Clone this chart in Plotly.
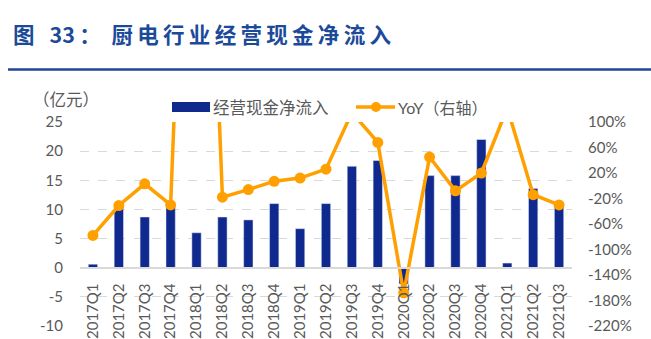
import plotly.graph_objects as go

categories = ["2017Q1", "2017Q2", "2017Q3", "2017Q4",
              "2018Q1", "2018Q2", "2018Q3", "2018Q4",
              "2019Q1", "2019Q2", "2019Q3", "2019Q4",
              "2020Q1", "2020Q2", "2020Q3", "2020Q4",
              "2021Q1", "2021Q2", "2021Q3"]
cash_inflow = [0.6, 10.3, 8.7, 10.5,
               6.0, 8.7, 8.2, 11.0,
               6.7, 11.0, 17.4, 18.4,
               -2.8, 15.8, 15.8, 22.0,
               0.8, 13.6, 10.7]
yoy_pct = [-78, -31, 3, -30,
           1000, -18, -6, 7,
           12, 26, 115, 68,
           -168, 45, -8, 20,
           122, -14, -30]
left_ticks = [-10, -5, 0, 5, 10, 15, 20, 25]
left_labels = ["-10", "-5", "0", "5", "10", "15", "20", "25"]
right_ticks = [-220, -180, -140, -100, -60, -20, 20, 60, 100]
right_labels = ["-220%", "-180%", "-140%", "-100%", "-60%", "-20%",
                "20%", "60%", "100%"]

W, H = 651, 339
L, R, T, B = 80, 572, 122, 326
PW, PH = R - L, B - T


def px(x):
    return (x - L) / PW


def py(y):
    return (B - y) / PH


BAR = "#10298E"
ORANGE = "#FFA000"
GRID = "#D9D9D9"
TXT = "#595959"
TITLE = "#1C4A9A"

fig = go.Figure()
fig.add_trace(go.Bar(x=categories, y=cash_inflow, marker_color=BAR,
                     name="经营现金净流入", yaxis="y", showlegend=False))
fig.add_trace(go.Scatter(x=categories, y=yoy_pct, mode="lines+markers",
                         line=dict(color=ORANGE, width=3.5),
                         marker=dict(color=ORANGE, size=11),
                         name="YoY（右轴）", yaxis="y2", showlegend=False))

num_font = dict(family="Lato, Noto Sans CJK SC", size=15, color=TXT)

fig.update_layout(
    width=W, height=H,
    margin=dict(l=L, r=W - R, t=T, b=H - B, pad=0),
    paper_bgcolor="white", plot_bgcolor="white",
    bargap=0.64,
    xaxis=dict(type="category", range=[-0.5, len(categories) - 0.5],
               anchor="free", position=10 / 35, automargin=False,
               showline=True, linecolor=GRID, linewidth=1.5,
               showgrid=False, ticks="", tickangle=-90,
               tickfont=num_font, ticklabelstandoff=9),
    yaxis=dict(range=[-10, 25], tickvals=left_ticks, ticktext=left_labels,
               automargin=False,
               showgrid=True, gridcolor=GRID, griddash="dash", gridwidth=1,
               zeroline=True, zerolinecolor=GRID, zerolinewidth=1.5,
               tickfont=num_font, ticklabelstandoff=16, showline=False),
    yaxis2=dict(range=[-220, 100], tickvals=right_ticks, ticktext=right_labels,
                overlaying="y", automargin=False,
                side="right", showgrid=False, zeroline=False,
                tickfont=num_font, ticklabelstandoff=15,
                showline=False),
)

cjk = "Noto Sans CJK SC"
title_text = ("图\u2002\u2009" + "33\u2009：\u2002"
              + "\u2009".join("厨电行业经营现金净流入"))
annotations = [
    dict(text="<b>" + title_text + "</b>", x=px(11), y=py(33),
         xanchor="left", yanchor="middle",
         font=dict(family=cjk, size=21.5, color=TITLE)),
    dict(text="（亿元）", x=px(31), y=py(99), xanchor="left", yanchor="middle",
         font=dict(family=cjk, size=16.5, color=TXT)),
    dict(text="经营现金净流入", x=px(211), y=py(107), xanchor="left",
         yanchor="middle", font=dict(family=cjk, size=16.5, color=TXT)),
    dict(text="YoY（右轴）", x=px(396), y=py(107), xanchor="left",
         yanchor="middle", font=dict(family="Lato, " + cjk, size=16, color=TXT)),
]
for a in annotations:
    a.update(xref="paper", yref="paper", showarrow=False)
fig.update_layout(annotations=annotations)

shapes = [
    dict(type="line", x0=px(8), x1=px(651), y0=py(69.5), y1=py(69.5),
         line=dict(color="#1F4596", width=2.5)),
    dict(type="rect", x0=px(172), x1=px(210), y0=py(112), y1=py(102),
         fillcolor=BAR, line=dict(width=0)),
    dict(type="line", x0=px(356), x1=px(395), y0=py(107), y1=py(107),
         line=dict(color=ORANGE, width=3.5)),
    dict(type="circle", x0=px(371), x1=px(381), y0=py(112), y1=py(102),
         fillcolor=ORANGE, line=dict(width=0)),
]
for s in shapes:
    s.update(xref="paper", yref="paper")
fig.update_layout(shapes=shapes)

fig.write_html("out.html")
